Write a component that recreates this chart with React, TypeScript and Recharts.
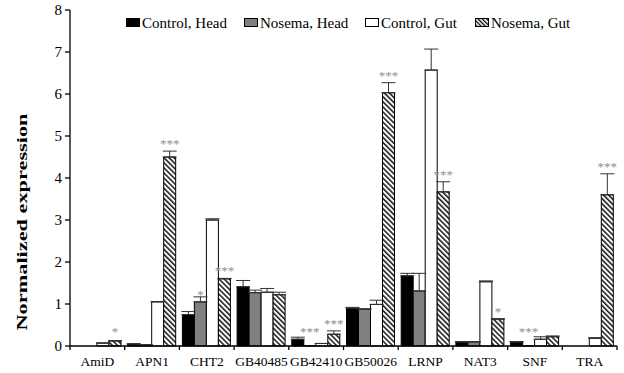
import React from 'react';
import { BarChart, Bar, XAxis, YAxis, ErrorBar, LabelList } from 'recharts';

const genes = ['AmiD', 'APN1', 'CHT2', 'GB40485', 'GB42410', 'GB50026', 'LRNP', 'NAT3', 'SNF', 'TRA'];
const controlHead = [0, 0.05, 0.75, 1.41, 0.16, 0.9, 1.67, 0.1, 0.1, 0];
const controlHeadErr = [0, 0, 0.07, 0.15, 0.05, 0.02, 0.06, 0, 0, 0];
const nosemaHead = [0, 0.03, 1.05, 1.27, 0.01, 0.88, 1.31, 0.1, 0.01, 0];
const nosemaHeadErr = [0, 0, 0.12, 0.06, 0, 0, 0.42, 0, 0, 0];
const controlGut = [0.07, 1.05, 3.0, 1.28, 0.06, 0.99, 6.57, 1.53, 0.16, 0.18];
const controlGutErr = [0, 0.01, 0.03, 0.09, 0, 0.1, 0.5, 0.02, 0.06, 0.02];
const nosemaGut = [0.12, 4.5, 1.6, 1.22, 0.28, 6.03, 3.67, 0.64, 0.22, 3.6];
const nosemaGutErr = [0.01, 0.14, 0.01, 0.06, 0.08, 0.24, 0.24, 0.01, 0.02, 0.5];
const sigNosemaHead = ['', '', '*', '', '***', '', '', '', '***', ''];
const sigNosemaGut = ['*', '***', '***', '', '***', '***', '***', '*', '', '***'];
const yTicks = [0, 1, 2, 3, 4, 5, 6, 7, 8];
const seriesNames = ['Control, Head', 'Nosema, Head', 'Control, Gut', 'Nosema, Gut'];
const yAxisTitle = 'Normalized expression';

const data = genes.map((g, i) => ({
  gene: g,
  ch: controlHead[i],
  chErr: [0, controlHeadErr[i]],
  nh: nosemaHead[i],
  nhErr: [0, nosemaHeadErr[i]],
  nhSig: sigNosemaHead[i],
  cg: controlGut[i],
  cgErr: [0, controlGutErr[i]],
  ng: nosemaGut[i],
  ngErr: [0, nosemaGutErr[i]],
  ngSig: sigNosemaGut[i],
}));

const FONT = 'Liberation Serif';

const makeSig = (values: number[], errs: number[]) => (p: any) => {
  const value = p.value;
  const index = p.index;
  if (!value) return null;
  const x = p.x ?? p.viewBox?.x;
  const y = p.y ?? p.viewBox?.y;
  const w = p.width ?? p.viewBox?.width;
  const h = p.height ?? p.viewBox?.height;
  const v = values[index];
  const ppu = v > 0 ? h / v : 0;
  const errTop = y - errs[index] * ppu;
  const base = y + h;
  const center = Math.min(errTop, base - 7) - 9;
  return (
    <text
      x={x + w / 2}
      y={center + 6}
      textAnchor="middle"
      fill="#909090"
      stroke="none"
      fontSize={13}
      fontFamily={FONT}
    >
      {value}
    </text>
  );
};

const XTick = (props: any) => {
  const { x, y, payload, index, width, visibleTicksCount } = props;
  const half = width && visibleTicksCount ? width / visibleTicksCount / 2 : 27.35;
  const last = index === genes.length - 1;
  return (
    <g>
      <line x1={x - half} x2={x - half} y1={y} y2={y + 4} stroke="#000" strokeWidth={1.3} />
      {last && <line x1={x + half} x2={x + half} y1={y} y2={y + 4} stroke="#000" strokeWidth={1.3} />}
      <text x={x} y={y + 20} textAnchor="middle" fill="#000" fontSize={13.5} fontFamily={FONT}>
        {payload.value}
      </text>
    </g>
  );
};

const legendFills = ['#000', '#808080', '#fff', 'url(#hatchL)'];
const legendPos = [
  { icon: 126, text: 142 },
  { icon: 244, text: 260 },
  { icon: 365, text: 381 },
  { icon: 475, text: 491 },
];

export default function App() {
  return (
    <div style={{ position: 'absolute', left: 0, top: 0, width: 624, height: 373, background: '#fff' }}>
      <BarChart
        width={624}
        height={373}
        data={data}
        margin={{ top: 10, right: 7, bottom: 0, left: 0 }}
        barCategoryGap={3}
        barGap={0}
      >
        <defs>
          <pattern id="hatch" patternUnits="userSpaceOnUse" width={3.6} height={3.6} patternTransform="rotate(-45)">
            <rect width={3.6} height={3.6} fill="#fff" />
            <line x1={0.8} y1={0} x2={0.8} y2={3.6} stroke="#000" strokeWidth={1.4} />
          </pattern>
        </defs>
        <XAxis
          dataKey="gene"
          height={27}
          tickSize={0}
          tickMargin={0}
          tickLine={false}
          axisLine={{ stroke: '#000', strokeWidth: 1.3 }}
          tick={<XTick />}
          interval={0}
        />
        <YAxis
          width={70}
          domain={[0, 8]}
          ticks={yTicks}
          interval={0}
          tickSize={5}
          tickMargin={3}
          axisLine={{ stroke: '#000', strokeWidth: 1.3 }}
          tickLine={{ stroke: '#000', strokeWidth: 1.3 }}
          tick={{ fill: '#000', fontSize: 15, fontFamily: FONT }}
        />
        <Bar dataKey="ch" name={seriesNames[0]} fill="#000" stroke="#000" strokeWidth={1} isAnimationActive={false}>
          <ErrorBar dataKey="chErr" width={7} stroke="#333" strokeWidth={1} direction="y" />
        </Bar>
        <Bar dataKey="nh" name={seriesNames[1]} fill="#808080" stroke="#000" strokeWidth={1} isAnimationActive={false}>
          <ErrorBar dataKey="nhErr" width={7} stroke="#333" strokeWidth={1} direction="y" />
          <LabelList dataKey="nhSig" content={makeSig(nosemaHead, nosemaHeadErr)} />
        </Bar>
        <Bar dataKey="cg" name={seriesNames[2]} fill="#fff" stroke="#000" strokeWidth={1} isAnimationActive={false}>
          <ErrorBar dataKey="cgErr" width={7} stroke="#333" strokeWidth={1} direction="y" />
        </Bar>
        <Bar dataKey="ng" name={seriesNames[3]} fill="url(#hatch)" stroke="#000" strokeWidth={1} isAnimationActive={false}>
          <ErrorBar dataKey="ngErr" width={7} stroke="#333" strokeWidth={1} direction="y" />
          <LabelList dataKey="ngSig" content={makeSig(nosemaGut, nosemaGutErr)} />
        </Bar>
      </BarChart>
      <svg width={624} height={373} style={{ position: 'absolute', left: 0, top: 0, pointerEvents: 'none' }}>
        <defs>
          <pattern id="hatchL" patternUnits="userSpaceOnUse" width={3} height={3} patternTransform="rotate(-45)">
            <rect width={3} height={3} fill="#fff" />
            <line x1={0.7} y1={0} x2={0.7} y2={3} stroke="#000" strokeWidth={1.3} />
          </pattern>
        </defs>
        {seriesNames.map((n, i) => (
          <g key={n}>
            <rect x={legendPos[i].icon + 0.5} y={18.5} width={13} height={8} fill={legendFills[i]} stroke="#000" strokeWidth={1} />
            <text x={legendPos[i].text} y={27.5} fontSize={15} fontFamily={FONT} fill="#000">
              {n}
            </text>
          </g>
        ))}
        <text
          x={22}
          y={222}
          transform="rotate(-90, 22, 222)"
          textAnchor="middle"
          dominantBaseline="central"
          fontWeight="bold"
          fontSize={15}
          fontFamily={FONT}
          fill="#000"
          textLength={217}
          lengthAdjust="spacingAndGlyphs"
        >
          {yAxisTitle}
        </text>
      </svg>
    </div>
  );
}
